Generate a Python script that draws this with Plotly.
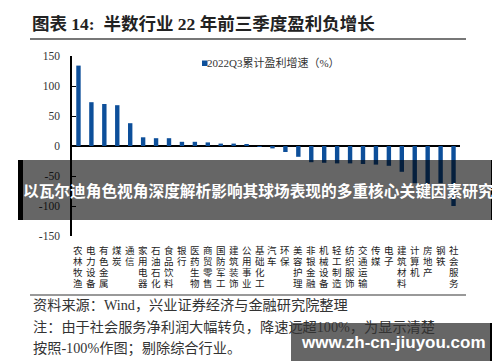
import plotly.graph_objects as go

# ---- data ----
categories = ["农林牧渔", "电力设备", "有色金属", "煤炭", "通信", "家用电器", "石油石化", "食品饮料",
              "银行", "医药生物", "商贸零售", "国防军工", "建筑装饰", "公用事业", "基础化工", "汽车",
              "环保", "美容护理", "非银金融", "机械设备", "轻工制造", "纺织服饰", "交通运输", "传媒",
              "电子", "建筑材料", "计算机", "房地产", "钢铁", "社会服务"]
growth = [134, 73, 70, 68, 38, 14.5, 13, 13, 7, 7, 6, 4, 4, 1.7, -1, -4, -10, -18,
          -27, -28, -29, -29, -30, -31, -33, -43, -62, -63, -62, -100]
series_name = "2022Q3累计盈利增速（%）"
ytick_vals = [150, 100, 50, 0, -50, -100, -150]
ytick_text = ["150", "100", "50", "0", "-50", "-100", "-150"]

title_text = "图表 14:  半数行业 22 年前三季度盈利负增长"
source_lines = ["资料来源：Wind，兴业证券经济与金融研究院整理",
                "注：由于社会服务净利润大幅转负，降速远超100%，为显示清楚",
                "按照-100%作图；剔除综合行业。"]
banner_text = "以瓦尔迪角色视角深度解析影响其球场表现的多重核心关键因素研究"
site_text = "www.zh-cn-jiuyou.com"

# ---- pixel helpers (plot area 64..452 x 48..228) ----
L, R, T, B = 64, 452, 48, 228
def fx(x):
    return (x - L) / (R - L)
def fy(y):
    return (B - y) / (B - T)

SERIF = "Liberation Serif, Noto Sans CJK SC, serif"
CJK = "Noto Sans CJK SC, sans-serif"

fig = go.Figure()
fig.add_trace(go.Bar(x=categories, y=growth, name=series_name,
                     marker=dict(color="#0d4f9a", line=dict(width=0)),
                     showlegend=False))

annotations = []
# title
annotations.append(dict(x=fx(22), y=fy(16.5), xref="paper", yref="paper", xanchor="left",
                        yanchor="middle", showarrow=False, text="<b>" + title_text + "</b>",
                        font=dict(family=SERIF, size=17.5, color="#222")))
# legend text
annotations.append(dict(x=fx(197), y=fy(55), xref="paper", yref="paper", xanchor="left",
                        yanchor="middle", showarrow=False, text=series_name,
                        font=dict(family=SERIF, size=11, color="#333")))
# category labels (vertical, one char per row)
for cat in categories:
    for k, ch in enumerate(cat):
        annotations.append(dict(x=cat, y=fy(241.5 + 11.2 * k), xref="x", yref="paper",
                                xanchor="center", yanchor="middle", showarrow=False, text=ch,
                                borderpad=0,
                                font=dict(family=CJK, size=9.5, color="#222")))
# source notes
for i, line in enumerate(source_lines):
    annotations.append(dict(x=fx(23), y=fy(297 + 21.5 * i), xref="paper", yref="paper",
                            xanchor="left", yanchor="middle", showarrow=False, text=line,
                            font=dict(family=SERIF, size=14.2, color="#333")))
# watermark banners
annotations.append(dict(x=fx(250), y=fy(182), xref="paper", yref="paper", xanchor="center",
                        yanchor="middle", showarrow=False, text="<b>" + banner_text + "</b>",
                        font=dict(family=CJK, size=15.7, color="white")))
annotations.append(dict(x=fx(385), y=fy(334), xref="paper", yref="paper", xanchor="center",
                        yanchor="middle", showarrow=False, text="<b>" + site_text + "</b>",
                        font=dict(family="Liberation Sans, Arial, sans-serif", size=17, color="white")))

shapes = [
    # title underline
    dict(type="line", xref="paper", yref="paper", x0=fx(22), x1=fx(458), y0=fy(31), y1=fy(31),
         line=dict(color="#777", width=2)),
    # bottom rule
    dict(type="line", xref="paper", yref="paper", x0=fx(22), x1=fx(458), y0=fy(287), y1=fy(287),
         line=dict(color="#777", width=1.5)),
    # legend swatch
    dict(type="rect", xref="paper", yref="paper", x0=fx(194), x1=fx(199.5), y0=fy(52.5), y1=fy(58),
         fillcolor="#0d4f9a", line=dict(width=0)),
    # banner overlay
    dict(type="rect", xref="paper", yref="paper", x0=fx(15), x1=fx(483), y0=fy(152), y1=fy(212),
         fillcolor="rgba(0,0,0,0.6)", line=dict(width=0), layer="above"),
    dict(type="rect", xref="paper", yref="paper", x0=fx(10), x1=fx(15), y0=fy(152), y1=fy(212),
         fillcolor="black", line=dict(width=0), layer="above"),
    dict(type="rect", xref="paper", yref="paper", x0=fx(483), x1=fx(490), y0=fy(152), y1=fy(212),
         fillcolor="black", line=dict(width=0), layer="above"),
    # site banner
    dict(type="rect", xref="paper", yref="paper", x0=fx(283), x1=fx(482), y0=fy(315), y1=fy(353),
         fillcolor="rgba(0,0,0,0.6)", line=dict(width=0), layer="above"),
    dict(type="rect", xref="paper", yref="paper", x0=fx(482), x1=fx(490), y0=fy(315), y1=fy(353),
         fillcolor="black", line=dict(width=0), layer="above"),
]

fig.update_layout(
    width=500, height=362,
    margin=dict(l=L, r=500 - R, t=T, b=362 - B, pad=0),
    paper_bgcolor="white", plot_bgcolor="white",
    bargap=0.66,
    showlegend=False,
    annotations=annotations,
    shapes=shapes,
    xaxis=dict(type="category", showticklabels=False, showgrid=False, zeroline=False,
               showline=False, ticks=""),
    yaxis=dict(range=[-150, 150], tickvals=ytick_vals, ticktext=ytick_text,
               showgrid=False, zeroline=True, zerolinecolor="black", zerolinewidth=1.5,
               showline=True, linecolor="black", linewidth=1.5,
               ticks="inside", ticklen=4, tickcolor="black", tickwidth=1,
               ticklabelstandoff=8,
               tickfont=dict(family=SERIF, size=11.5, color="#333")),
)

fig.write_html("out.html")
